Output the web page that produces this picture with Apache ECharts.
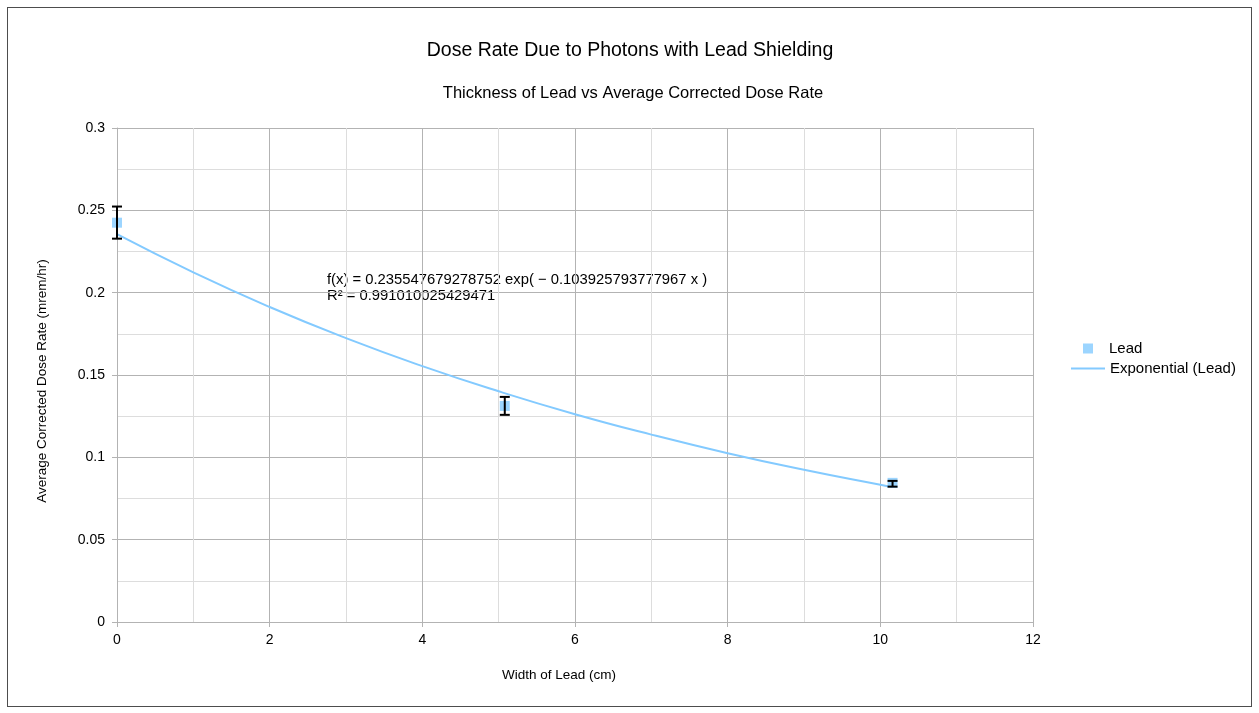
<!DOCTYPE html>
<html lang="en">
<head>
    <meta charset="UTF-8">
    <title>Dose Rate Due to Photons with Lead Shielding</title>
    <script src="https://cdn.jsdelivr.net/npm/echarts@6/dist/echarts.min.js"></script>
    <style>
        html, body { margin: 0; padding: 0; background: #fff; }
        #frame { position: absolute; left: 7px; top: 7px; width: 1243px; height: 698px; border: 1px solid #4d4d4d; }
        #chart { width: 1259px; height: 713px; }
    </style>
</head>
<body>
<div id="frame"></div>
<div id="chart"></div>
<script>
// lead thickness (cm) and measured dose rate
var thickness = [0, 5.08, 10.16];
var doseRate = [0.2425, 0.1312, 0.0845];
var errLow = [0.2328, 0.1258, 0.0822];
var errHigh = [0.2523, 0.1367, 0.0857];

// exponential trend line
var trendX = [0, 1, 2, 3, 4, 5, 6, 7, 8, 9, 10, 10.16];
var trendY = [0.2355, 0.2123, 0.1913, 0.1724, 0.1554, 0.1401, 0.1262, 0.1138, 0.1025, 0.0924, 0.0833, 0.0819];

var blue = '#83caff';
var font = 'Liberation Sans, Arial, sans-serif';

var chart = echarts.init(document.getElementById('chart'));

var option = {
  animation: false,
  textStyle: { fontFamily: font, color: '#000' },
  title: [
    { text: 'Dose Rate Due to Photons with Lead Shielding', left: 625, top: 36, textAlign: 'center',
      textStyle: { fontSize: 19.5, fontWeight: 'normal', color: '#000', fontFamily: font } },
    { text: 'Thickness of Lead vs Average Corrected Dose Rate', left: 628, top: 80, textAlign: 'center',
      textStyle: { fontSize: 16.5, fontWeight: 'normal', color: '#000', fontFamily: font } }
  ],
  grid: { left: 117, right: 226, top: 128, bottom: 91 },
  legend: [
    { data: ['Lead'], orient: 'vertical', left: 1083, top: 341, padding: 0, itemWidth: 10, itemHeight: 10,
      textStyle: { fontSize: 15, color: '#000', fontFamily: font, padding: [0, 0, 0, 11] } },
    { data: [{ name: 'Exponential (Lead)', icon: 'rect' }], orient: 'vertical', left: 1071, top: 361, padding: 0,
      itemWidth: 34, itemHeight: 2,
      textStyle: { fontSize: 15, color: '#000', fontFamily: font } }
  ],
  xAxis: {
    type: 'value', min: 0, max: 12, interval: 2,
    axisLine: { show: true, lineStyle: { color: '#b3b3b3' } },
    axisTick: { show: true, length: 5, lineStyle: { color: '#b3b3b3' } },
    axisLabel: { fontSize: 14, color: '#000', margin: 11 },
    splitLine: { show: true, lineStyle: { color: '#b3b3b3' } },
    minorTick: { show: false, splitNumber: 2 },
    minorSplitLine: { show: true, lineStyle: { color: '#dddddd' } }
  },
  yAxis: {
    type: 'value', min: 0, max: 0.3, interval: 0.05,
    axisLine: { show: true, lineStyle: { color: '#b3b3b3' } },
    axisTick: { show: true, length: 5, lineStyle: { color: '#b3b3b3' } },
    axisLabel: { fontSize: 14, color: '#000', margin: 12 },
    splitLine: { show: true, lineStyle: { color: '#b3b3b3' } },
    minorTick: { show: false, splitNumber: 2 },
    minorSplitLine: { show: true, lineStyle: { color: '#dddddd' } }
  },
  graphic: [
    { type: 'text', left: 327, top: 272,
      style: { text: 'f(x) = 0.235547679278752 exp( \u2212 0.103925793777967 x )\nR\u00b2 = 0.991010025429471',
               font: '14.8px ' + font, fill: '#000', lineHeight: 16 } },
    // axis titles sit slightly off the plot centre in the original
    { type: 'text', x: 559, y: 675,
      style: { text: 'Width of Lead (cm)', font: '13.5px ' + font, fill: '#000', align: 'center', verticalAlign: 'middle' } },
    { type: 'text', x: 42, y: 381, rotation: Math.PI / 2,
      style: { text: 'Average Corrected Dose Rate (mrem/hr)', font: '13.5px ' + font, fill: '#000', align: 'center', verticalAlign: 'middle' } }
  ],
  series: [
    {
      name: 'Exponential (Lead)', type: 'line', smooth: true, showSymbol: false, symbol: 'none',
      data: trendX.map(function (x, i) { return [x, trendY[i]]; }),
      lineStyle: { color: blue, width: 2 }, itemStyle: { color: blue }, z: 2
    },
    {
      name: 'Lead', type: 'scatter', symbol: 'rect', symbolSize: 10,
      data: thickness.map(function (x, i) { return [x, doseRate[i]]; }),
      itemStyle: { color: blue }, z: 3
    },
    {
      name: 'err', type: 'custom', z: 4,
      data: thickness.map(function (x, i) { return [x, errLow[i], errHigh[i]]; }),
      renderItem: function (params, api) {
        var lo = api.coord([api.value(0), api.value(1)]);
        var hi = api.coord([api.value(0), api.value(2)]);
        var w = 5;
        var st = { stroke: '#000', lineWidth: 2 };
        return {
          type: 'group',
          children: [
            { type: 'line', shape: { x1: lo[0], y1: lo[1], x2: hi[0], y2: hi[1] }, style: st },
            { type: 'line', shape: { x1: lo[0] - w, y1: lo[1], x2: lo[0] + w, y2: lo[1] }, style: st },
            { type: 'line', shape: { x1: hi[0] - w, y1: hi[1], x2: hi[0] + w, y2: hi[1] }, style: st }
          ]
        };
      }
    }
  ]
};

chart.setOption(option);
</script>
</body>
</html>
